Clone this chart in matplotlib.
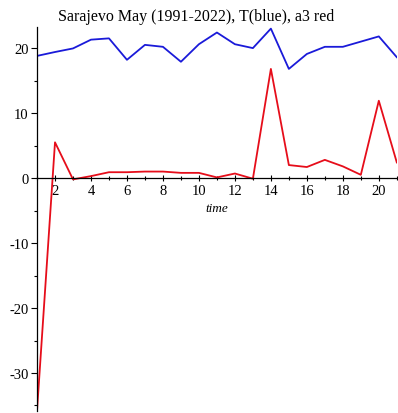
import matplotlib
matplotlib.use("Agg")
import matplotlib.pyplot as plt
from matplotlib.ticker import MultipleLocator

years_idx = list(range(1, 22))
temp_blue = [18.8, 19.4, 19.95, 21.3, 21.5, 18.2, 20.5, 20.2, 17.9, 20.6, 22.4,
             20.6, 20.0, 23.0, 16.8, 19.1, 20.2, 20.2, 21.0, 21.8, 18.6]
a3_red = [-35.8, 5.5, -0.2, 0.3, 0.9, 0.9, 1.0, 1.0, 0.8, 0.8, 0.1,
          0.7, -0.1, 16.8, 2.0, 1.7, 2.8, 1.8, 0.5, 11.9, 2.4]
x_ticks = [2, 4, 6, 8, 10, 12, 14, 16, 18, 20]
y_ticks = [-30, -20, -10, 0, 10, 20]

plt.rcParams['font.family'] = ['Liberation Serif', 'DejaVu Serif']
plt.rcParams['axes.unicode_minus'] = False

fig = plt.figure(figsize=(3.98, 4.14), dpi=100)
ax = fig.add_axes([0.093, 0.0056, 0.904, 0.926])

ax.plot(years_idx, temp_blue, color=(0.1, 0.1, 0.85), lw=1.3)
ax.plot(years_idx, a3_red, color=(0.9, 0.05, 0.1), lw=1.3)

ax.set_xlim(1, 21)
ax.set_ylim(-35.8, 23.2)
ax.spines['top'].set_visible(False)
ax.spines['right'].set_visible(False)
ax.spines['bottom'].set_position(('data', 0))
ax.spines['left'].set_position(('data', 1))
for s in ('bottom', 'left'):
    ax.spines[s].set_linewidth(0.9)

ax.set_xticks(x_ticks)
ax.set_yticks(y_ticks)
ax.xaxis.set_minor_locator(MultipleLocator(1))
ax.yaxis.set_minor_locator(MultipleLocator(5))
ax.tick_params(axis='both', which='major', labelsize=10.5, length=4, width=0.8, pad=2)
ax.tick_params(axis='both', which='minor', length=2.5, width=0.8)
ax.tick_params(axis='x', which='both', direction='inout')

ax.set_xlabel('time', fontstyle='italic', fontsize=9.5, labelpad=4)
ax.set_title('Sarajevo May (1991-2022), T(blue), a3 red', fontsize=11.5,
             x=(196 - 37) / 360, pad=5)

fig.savefig('out.png', dpi=100)
